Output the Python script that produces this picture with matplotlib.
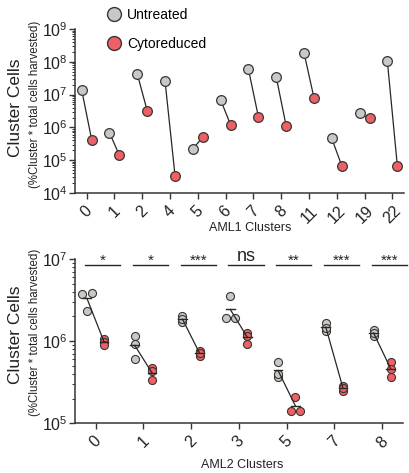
import numpy as np
import matplotlib
matplotlib.use("Agg")
import matplotlib.pyplot as plt
from matplotlib.lines import Line2D
from matplotlib.transforms import blended_transform_factory
from matplotlib.ticker import LogLocator, LogFormatterSciNotation, NullFormatter

# ---------------- data ----------------
aml1_clusters = ['0', '1', '2', '4', '5', '6', '7', '8', '11', '12', '19', '22']
aml1_untreated = [1.4e7, 6.9e5, 4.3e7, 2.6e7, 2.2e5, 6.9e6, 6.0e7, 3.5e7, 1.9e8, 4.6e5, 2.7e6, 1.07e8]
aml1_cytoreduced = [4.2e5, 1.4e5, 3.2e6, 3.4e4, 5.1e5, 1.2e6, 2.1e6, 1.1e6, 8.0e6, 6.8e4, 1.9e6, 6.8e4]

aml2_clusters = ['0', '1', '2', '3', '5', '7', '8']
aml2_untreated = [
    [3.9e6, 3.75e6, 2.3e6],
    [1.15e6, 9.2e5, 6.0e5],
    [2.0e6, 1.7e6, 1.85e6],
    [3.5e6, 1.9e6, 1.9e6],
    [5.5e5, 3.7e5, 4.0e5],
    [1.68e6, 1.33e6, 1.45e6],
    [1.36e6, 1.16e6, 1.26e6],
]
aml2_cytoreduced = [
    [1.06e6, 0.97e6, 0.89e6],
    [4.7e5, 4.3e5, 3.4e5],
    [7.6e5, 6.6e5, 7.1e5],
    [1.27e6, 1.14e6, 9.2e5],
    [2.1e5, 1.42e5, 1.42e5],
    [2.85e5, 2.5e5, 2.67e5],
    [5.5e5, 3.7e5, 4.6e5],
]
aml2_significance = ['*', '*', '***', 'ns', '**', '***', '***']
legend_labels = ['Untreated', 'Cytoreduced']

# ---------------- style ----------------
GRAY = '#c8c8c8'
RED = '#ee6066'
EDGE = '#3a3632'
AXC = '#3a3430'
TXT = '#222222'
plt.rcParams['font.family'] = ['Liberation Sans', 'DejaVu Sans']

W, H = 409, 473
fig = plt.figure(figsize=(W / 100, H / 100), dpi=100)


def px_axes(l, t, r, b):
    return fig.add_axes([l / W, 1 - b / H, (r - l) / W, (b - t) / H])


def style_axes(ax):
    for s in ['top', 'right']:
        ax.spines[s].set_visible(False)
    for s in ['left', 'bottom']:
        ax.spines[s].set_linewidth(1.1)
        ax.spines[s].set_color(AXC)
    ax.tick_params(axis='both', which='major', direction='out', length=4.5, width=1.0,
                   color=AXC, labelcolor=TXT)
    ax.tick_params(axis='y', which='minor', direction='out', length=2.2, width=0.7, color=AXC)
    ax.tick_params(axis='x', which='minor', bottom=False)
    ax.tick_params(axis='y', which='major', labelsize=11.5, pad=1)
    ax.tick_params(axis='x', which='major', labelsize=11.5, pad=3)
    ax.yaxis.set_major_locator(LogLocator(base=10, numticks=20))
    ax.yaxis.set_minor_locator(LogLocator(base=10, subs=np.arange(2, 10), numticks=20))
    ax.yaxis.set_major_formatter(LogFormatterSciNotation())
    ax.yaxis.set_minor_formatter(NullFormatter())


# ---------------- top panel ----------------
ax1 = px_axes(75, 29, 404, 193)
ax1.set_yscale('log')
ax1.set_ylim(1e4, 1e9)
ax1.set_xlim(-0.42, len(aml1_clusters) - 0.58)
style_axes(ax1)
x1 = np.arange(len(aml1_clusters))
off = 0.18
for i in range(len(aml1_clusters)):
    ax1.plot([x1[i] - off, x1[i] + off], [aml1_untreated[i], aml1_cytoreduced[i]],
             color='#2a2622', lw=0.9, zorder=2)
ax1.plot(x1 - off, aml1_untreated, 'o', ms=7, mfc=GRAY, mec=EDGE, mew=0.9, ls='none',
         zorder=3, clip_on=False)
ax1.plot(x1 + off, aml1_cytoreduced, 'o', ms=7, mfc=RED, mec=EDGE, mew=0.9, ls='none',
         zorder=3, clip_on=False)
ax1.set_xticks(x1)
ax1.set_xticklabels(aml1_clusters, rotation=45, ha='center', va='top')

handles = [Line2D([], [], marker='o', ls='none', ms=10, mfc=GRAY, mec=EDGE, mew=1.0),
           Line2D([], [], marker='o', ls='none', ms=10, mfc=RED, mec=EDGE, mew=1.0)]
fig.legend(handles, legend_labels, loc='upper left', bbox_to_anchor=(107 / W, 1 - 8 / H),
           frameon=False, fontsize=10, borderpad=0, handlelength=1.0, handletextpad=0.45,
           labelspacing=1.05, borderaxespad=0)

fig.text(16 / W, 1 - 108 / H, 'Cluster Cells', rotation=90, ha='center', va='center',
         fontsize=12.5, color=TXT)
fig.text(35 / W, 1 - 104 / H, '(%Cluster * total cells harvested)', rotation=90,
         ha='center', va='center', fontsize=8.3, color=TXT)
fig.text(250 / W, 1 - 228 / H, 'AML1 Clusters', ha='center', va='center', fontsize=9,
         color=TXT)

# ---------------- bottom panel ----------------
ax2 = px_axes(75, 259, 402.7, 423.3)
ax2.set_yscale('log')
ax2.set_ylim(1e5, 1e7)
ax2.set_xlim(-0.43, len(aml2_clusters) - 0.57)
style_axes(ax2)
x2 = np.arange(len(aml2_clusters))
ax2.set_xticks(x2)
ax2.set_xticklabels(aml2_clusters, rotation=45, ha='center', va='top')

MS2 = 5.8
diam = MS2 * 100 / 72 + 0.8


def swarm(ax, xc, vals, thr=2.0):
    """Spread nearly coincident points side by side; others stay in the column."""
    pts = ax.transData.transform(np.column_stack([np.full(len(vals), xc), vals]))
    order = np.argsort(pts[:, 1])
    groups, cur = [], [order[0]]
    for a, b in zip(order[:-1], order[1:]):
        if pts[b, 1] - pts[a, 1] < thr:
            cur.append(b)
        else:
            groups.append(cur)
            cur = [b]
    groups.append(cur)
    xs = pts[:, 0].copy()
    for g in groups:
        n = len(g)
        for j, idx in enumerate(g):
            xs[idx] = pts[idx, 0] + (j - (n - 1) / 2) * diam * 1.05
    data = ax.transData.inverted().transform(np.column_stack([xs, pts[:, 1]]))
    return data[:, 0]


off2 = 0.18
for i in range(len(aml2_clusters)):
    for vals, sign, col in [(aml2_untreated[i], -1, GRAY), (aml2_cytoreduced[i], 1, RED)]:
        xc = x2[i] + sign * off2
        xs = swarm(ax2, xc, vals)
        ax2.plot(xs, vals, 'o', ms=MS2, mfc=col, mec=EDGE, mew=0.8, ls='none', zorder=3)
        m = np.mean(vals)
        ax2.plot([xc - 0.09, xc + 0.09], [m, m], color='#2a2622', lw=1.0, zorder=4)
    mu = np.mean(aml2_untreated[i])
    mc = np.mean(aml2_cytoreduced[i])
    ax2.plot([x2[i] - off2, x2[i] + off2], [mu, mc], color='#2a2622', lw=0.9, zorder=4)

bt = blended_transform_factory(ax2.transData, ax2.transAxes)
for i, s in enumerate(aml2_significance):
    c = x2[i] + 0.15
    ax2.plot([c - 0.37, c + 0.37], [0.9635, 0.9635], transform=bt, color='#2a2622', lw=1.0,
             clip_on=False)
    if s == 'ns':
        ax2.text(c, 0.99, s, transform=bt, ha='center', va='baseline', fontsize=13,
                 color=TXT)
    else:
        ax2.text(c, 0.967, s, transform=bt, ha='center', va='baseline', fontsize=11,
                 color=TXT)

fig.text(15 / W, 1 - 335 / H, 'Cluster Cells', rotation=90, ha='center', va='center',
         fontsize=12.5, color=TXT)
fig.text(35 / W, 1 - 332 / H, '(%Cluster * total cells harvested)', rotation=90,
         ha='center', va='center', fontsize=8.3, color=TXT)
fig.text(242 / W, 1 - 465 / H, 'AML2 Clusters', ha='center', va='center', fontsize=9,
         color=TXT)

fig.savefig('out.png', dpi=100)
